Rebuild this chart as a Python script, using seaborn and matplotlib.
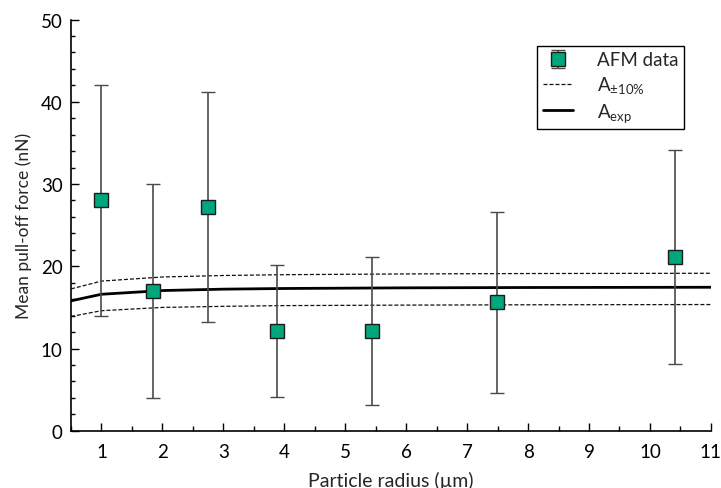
import matplotlib
matplotlib.use("Agg")
import matplotlib.pyplot as plt
from matplotlib.ticker import MultipleLocator
import seaborn as sns
import pandas as pd

# AFM pull-off measurements: particle radius (µm), mean force (nN), error half-width (nN)
radius = [1.0, 1.84, 2.74, 3.88, 5.44, 7.49, 10.41]
force = [28.0, 17.0, 27.25, 12.15, 12.15, 15.65, 21.15]
force_err = [14.0, 13.0, 14.0, 8.0, 9.0, 11.0, 13.0]

# Model curves: experimental Hamaker constant and the ±10 % band
model_r = [0.5, 1.0, 2.0, 3.0, 4.0, 6.0, 8.0, 11.0]
a_exp = [15.8, 16.6, 17.05, 17.22, 17.3, 17.38, 17.42, 17.45]
a_upper = [17.25, 18.2, 18.7, 18.88, 18.98, 19.07, 19.12, 19.15]
a_lower = [13.9, 14.6, 15.0, 15.13, 15.22, 15.28, 15.32, 15.35]

sns.set_theme(style="ticks")
plt.rcParams["font.family"] = ["Lato", "DejaVu Sans"]
plt.rcParams["mathtext.fontset"] = "custom"
plt.rcParams["mathtext.rm"] = "Lato"
plt.rcParams["mathtext.it"] = "Lato:italic"
plt.rcParams["mathtext.bf"] = "Lato:bold"

model = pd.DataFrame({"r": model_r, "exp": a_exp, "up": a_upper, "lo": a_lower})

fig = plt.figure(figsize=(7.21, 4.89), dpi=100)
ax = fig.add_axes([0.0985, 0.117, 0.8875, 0.841])

dash = dict(color="#111111", lw=0.9, dashes=(3.2, 1.6))
sns.lineplot(data=model, x="r", y="up", ax=ax, label=r"A$_{\mathrm{\pm10\%}}$", **dash)
sns.lineplot(data=model, x="r", y="lo", ax=ax, label="_nolegend_", **dash)
sns.lineplot(data=model, x="r", y="exp", ax=ax, color="black", lw=2.0, label=r"A$_{\mathrm{exp}}$")

ax.errorbar(radius, force, yerr=force_err, fmt="s", ms=9.5, mfc="#00a67c", mec="#1c1c1c",
            mew=1.0, ecolor="#4a4a4a", elinewidth=1.2, capsize=4.8, capthick=1.2,
            zorder=5, label="AFM data")

ax.set_xlim(0.5, 11)
ax.set_ylim(0, 50)
ax.xaxis.set_major_locator(MultipleLocator(1))
ax.xaxis.set_minor_locator(MultipleLocator(0.5))
ax.yaxis.set_major_locator(MultipleLocator(10))
ax.yaxis.set_minor_locator(MultipleLocator(2))
ax.tick_params(which="both", direction="in", colors="black", width=1.0, labelsize=13.5)
ax.tick_params(axis="y", which="major", length=6, pad=6)
ax.tick_params(axis="y", which="minor", length=3)
ax.tick_params(axis="x", which="major", length=5.5, pad=9)
ax.tick_params(axis="x", which="minor", length=3.5)
sns.despine(ax=ax)
for s in ("left", "bottom"):
    ax.spines[s].set_color("black")
    ax.spines[s].set_linewidth(1.2)

ax.set_xlabel("Particle radius (µm)", fontsize=14, labelpad=8)
ax.set_ylabel("Mean pull-off force (nN)", fontsize=12.5, labelpad=6)

handles, labels = ax.get_legend_handles_labels()
order = [labels.index("AFM data"), labels.index(r"A$_{\mathrm{\pm10\%}}$"), labels.index(r"A$_{\mathrm{exp}}$")]
leg = ax.legend([handles[i] for i in order], [labels[i] for i in order],
                loc="upper right", bbox_to_anchor=(0.958, 0.936), fontsize=13.5,
                frameon=True, fancybox=False, framealpha=1, edgecolor="black",
                borderpad=0.3, handlelength=1.6, handletextpad=1.3, labelspacing=0.3,
                borderaxespad=0)
leg.get_frame().set_linewidth(1.0)

fig.savefig("out.png", dpi=100)
